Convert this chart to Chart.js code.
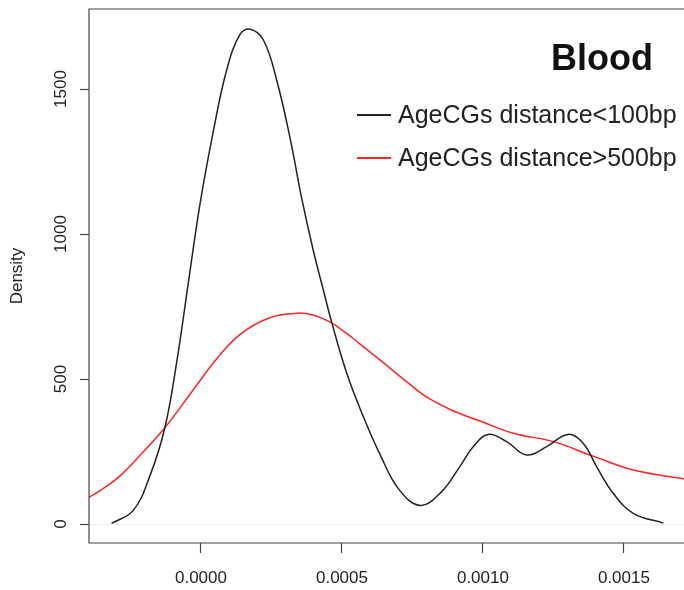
<!DOCTYPE html>
<html>
<head>
<meta charset="utf-8">
<script src="https://cdn.jsdelivr.net/npm/chart.js@4/dist/chart.umd.min.js"></script>
<style>
    body { margin: 0; background: #fff; }
    canvas { display: block; }
</style>
</head>
<body>
<canvas id="densityChart" width="684" height="590"></canvas>
<script>
// Density estimates for AgeCG distances (Blood)
const nearX = [-0.000317, -0.00024, -0.000181, -0.000128, -0.000086, -0.000045, -0.000004, 0.000044,
    0.000091, 0.000138, 0.000174, 0.000221, 0.000268, 0.000316, 0.000357, 0.000398, 0.000434,
    0.000463, 0.000517, 0.000576, 0.000635, 0.0007, 0.000777, 0.000852, 0.000918, 0.000966,
    0.001019, 0.001084, 0.001155, 0.001226, 0.001302, 0.001356, 0.001403, 0.001462, 0.001533, 0.00164];
const nearY = [2, 47, 166, 332, 558, 830, 1100, 1355,
    1565, 1688, 1706, 1670, 1533, 1331, 1125, 945, 807,
    698, 520, 370, 240, 122, 64, 110, 198, 267,
    309, 284, 238, 267, 309, 278, 198, 106, 37, 3];

const farX = [-0.000397, -0.000358, -0.000287, -0.000216, -0.000128, -0.000027, 0.000056, 0.000138,
    0.000233, 0.000339, 0.0004, 0.00046, 0.00052, 0.00055, 0.00058, 0.000635, 0.00073, 0.00081, 0.0009,
    0.00099, 0.001108, 0.00125, 0.001391, 0.001533, 0.001713];
const farY = [92, 115, 166, 237, 332, 463, 570, 653,
    707, 727, 720, 695, 655, 632, 608, 566, 490, 432, 388,
    355, 313, 284, 234, 186, 155];

const xTicks = [0, 0.0005, 0.001, 0.0015];
const yTicks = [0, 500, 1000, 1500];

const seriesNames = ["AgeCGs distance<100bp", "AgeCGs distance>500bp"];
const seriesColors = ["#222222", "#ff2424"];

const toPoints = (xs, ys) => xs.map((x, i) => ({ x: x, y: ys[i] }));

// box round the plot region plus the panel title and legend
const boxAndLegend = {
    id: "boxAndLegend",
    afterDraw(chart) {
        const ctx = chart.ctx;
        const area = chart.chartArea;
        ctx.save();
        ctx.strokeStyle = "#444";
        ctx.lineWidth = 1.2;
        ctx.beginPath();
        ctx.moveTo(area.right + 5, area.top);
        ctx.lineTo(area.left, area.top);
        ctx.lineTo(area.left, area.bottom);
        ctx.lineTo(area.right + 5, area.bottom);
        ctx.stroke();

        ctx.fillStyle = "#111";
        ctx.textAlign = "center";
        ctx.textBaseline = "alphabetic";
        ctx.font = 'bold 36px "Liberation Sans", Arial, sans-serif';
        ctx.fillText("Blood", 602, 70);

        ctx.font = '25px "Liberation Sans", Arial, sans-serif';
        ctx.textAlign = "left";
        ctx.fillStyle = "#222";
        seriesNames.forEach((name, i) => {
            const y = 123 + i * 43;
            ctx.strokeStyle = seriesColors[i];
            ctx.lineWidth = 2;
            ctx.beginPath();
            ctx.moveTo(357, y - 8);
            ctx.lineTo(391, y - 8);
            ctx.stroke();
            ctx.fillText(name, 398, y);
        });
        ctx.restore();
    },
};

const ctx = document.getElementById("densityChart").getContext("2d");
new Chart(ctx, {
    type: "line",
    data: {
        datasets: [
            {
                label: seriesNames[0],
                data: toPoints(nearX, nearY),
                borderColor: seriesColors[0],
                borderWidth: 1.5,
                pointRadius: 0,
                tension: 0.4,
            },
            {
                label: seriesNames[1],
                data: toPoints(farX, farY),
                borderColor: seriesColors[1],
                borderWidth: 1.5,
                pointRadius: 0,
                tension: 0.4,
            },
        ],
    },
    options: {
        responsive: false,
        animation: false,
        layout: { padding: { top: 9, right: 0, left: 0, bottom: 0 } },
        plugins: {
            legend: { display: false },
            tooltip: { enabled: false },
        },
        scales: {
            x: {
                type: "linear",
                min: -0.000397,
                max: 0.001713,
                afterBuildTicks: (scale) => {
                    scale.ticks = xTicks.map((v) => ({ value: v }));
                },
                afterFit: (scale) => {
                    scale.height = 47;
                    scale.paddingLeft = 0;
                    scale.paddingRight = 0;
                },
                border: { display: false },
                grid: {
                    drawOnChartArea: false,
                    tickLength: 10,
                    tickColor: "#444",
                    tickWidth: 1.2,
                },
                ticks: {
                    padding: 15,
                    color: "#222",
                    maxRotation: 0,
                    font: { family: '"Liberation Sans", Arial, sans-serif', size: 17 },
                    callback: (v) => Number(v).toFixed(4),
                },
            },
            y: {
                min: -65.5,
                max: 1776,
                afterBuildTicks: (scale) => {
                    scale.ticks = yTicks.map((v) => ({ value: v }));
                },
                afterFit: (scale) => {
                    scale.width = 89;
                    scale.paddingTop = 0;
                    scale.paddingBottom = 0;
                },
                border: { display: false },
                grid: {
                    color: (c) => (c.tick && c.tick.value === 0 ? "#eeeeee" : "rgba(0,0,0,0)"),
                    tickLength: 9,
                    tickColor: "#444",
                    tickWidth: 1.2,
                },
                ticks: {
                    padding: 0,
                    color: "#222",
                    minRotation: 90,
                    maxRotation: 90,
                    crossAlign: "center",
                    font: { family: '"Liberation Sans", Arial, sans-serif', size: 17 },
                    callback: (v) => String(v),
                },
                title: {
                    display: true,
                    text: "Density",
                    color: "#222",
                    padding: { top: 7, bottom: 0 },
                    font: { family: '"Liberation Sans", Arial, sans-serif', size: 17 },
                },
            },
        },
    },
    plugins: [boxAndLegend],
});
</script>
</body>
</html>
